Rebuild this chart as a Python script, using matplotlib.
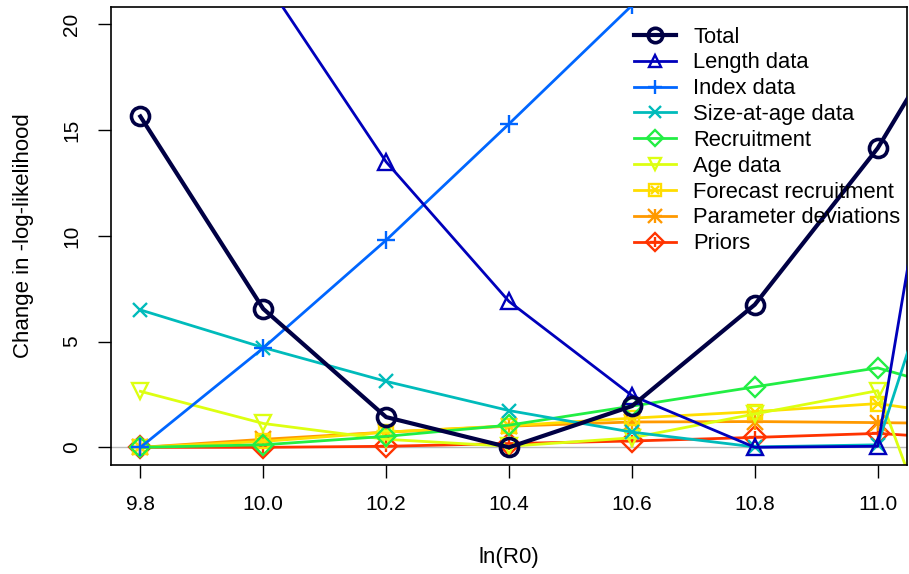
import matplotlib
matplotlib.use("Agg")
import matplotlib.pyplot as plt
from matplotlib.lines import Line2D
from matplotlib.legend_handler import HandlerTuple

plt.rcParams['font.family'] = ['Liberation Sans', 'DejaVu Sans']

# profile over ln(R0); last point lies past the plotted range
lnR0 = [9.8, 10.0, 10.2, 10.4, 10.6, 10.8, 11.0, 11.2]

total       = [15.65, 6.55, 1.43, 0.0, 1.95, 6.75, 14.15, 23.8]
length_data = [31.0, 22.2, 13.5, 6.9, 2.45, 0.0, 0.05, 34.6]
index_data  = [0.0, 4.7, 9.8, 15.3, 20.9, 26.6, 32.4, 38.3]
size_at_age = [6.5, 4.72, 3.12, 1.74, 0.72, 0.02, 0.12, 18.1]
recruitment = [0.0, 0.12, 0.52, 1.05, 1.95, 2.86, 3.76, 2.1]
age_data    = [2.65, 1.13, 0.38, 0.05, 0.45, 1.58, 2.68, -13.0]
fcast_recr  = [0.0, 0.28, 0.72, 1.02, 1.38, 1.69, 2.07, 1.25]
param_devs  = [0.0, 0.38, 0.72, 1.0, 1.2, 1.22, 1.17, 1.1]
priors      = [0.0, 0.0, 0.05, 0.18, 0.3, 0.47, 0.66, 0.3]

labels = ["Total", "Length data", "Index data", "Size-at-age data", "Recruitment",
          "Age data", "Forecast recruitment", "Parameter deviations", "Priors"]
colors = ["#000044", "#0000BB", "#0066FF", "#00BBBB", "#22EE44",
          "#DDFF11", "#FFDD00", "#FF9900", "#FF3300"]
series = [total, length_data, index_data, size_at_age, recruitment,
          age_data, fcast_recr, param_devs, priors]
# R-style pch symbols: primary marker and optional overlay
markers = [("o", None), ("^", None), ("+", None), ("x", None), ("D", None),
           ("v", None), ("s", "x"), ("+", "x"), ("D", "+")]
msizes = [13, 11, 13, 10, 10, 11, 10, 12, 11]

fig = plt.figure(figsize=(9.09, 5.74), dpi=100)
ax = fig.add_axes([0.122, 0.19, 0.876, 0.798])

ax.axhline(0, color="#BBBBBB", lw=1, zorder=0)

handles = []
for i in range(len(series) - 1, -1, -1):
    y = series[i]
    lw = 3.0 if i == 0 else 2.0
    mew = 2.6 if i == 0 else 1.7
    m1, m2 = markers[i]
    ax.plot(lnR0, y, color=colors[i], lw=lw, marker=m1, ms=msizes[i],
            mfc="none", mec=colors[i], mew=mew, zorder=2 + (9 - i) * 0.1)
    h1 = Line2D([], [], color=colors[i], lw=lw, marker=m1, ms=msizes[i] * 0.8,
                mfc="none", mec=colors[i], mew=mew)
    if m2 is not None:
        ms2 = msizes[i] * (0.8 if m1 != "+" else 1.0)
        ax.plot(lnR0, y, ls="none", marker=m2, ms=ms2, mec=colors[i], mew=mew,
                zorder=2 + (9 - i) * 0.1)
        h2 = Line2D([], [], ls="none", marker=m2, ms=ms2 * 0.8, mec=colors[i], mew=mew)
        handles.append((h1, h2))
    else:
        handles.append(h1)
handles = handles[::-1]

ax.set_xlim(9.752, 11.048)
ax.set_ylim(-0.832, 20.832)
ax.set_xticks([9.8, 10.0, 10.2, 10.4, 10.6, 10.8, 11.0])
ax.set_xticklabels(["9.8", "10.0", "10.2", "10.4", "10.6", "10.8", "11.0"])
ax.set_yticks([0, 5, 10, 15, 20])
ax.tick_params(axis="both", length=9.5, width=1, labelsize=15, pad=12)
for lab in ax.get_yticklabels():
    lab.set_rotation(90)
    lab.set_va("center")
for s in ax.spines.values():
    s.set_linewidth(1.2)

ax.set_xlabel("ln(R0)", fontsize=16, labelpad=24)
ax.set_ylabel("Change in -log-likelihood", fontsize=16, labelpad=20)

ax.legend(handles, labels, handler_map={tuple: HandlerTuple(ndivide=1, pad=0)},
          loc="upper left", bbox_to_anchor=(0.657, 0.957), frameon=False,
          fontsize=15.8, handlelength=1.9, handletextpad=0.8, labelspacing=0.22,
          borderpad=0, borderaxespad=0)

fig.savefig("out.png", dpi=100)
